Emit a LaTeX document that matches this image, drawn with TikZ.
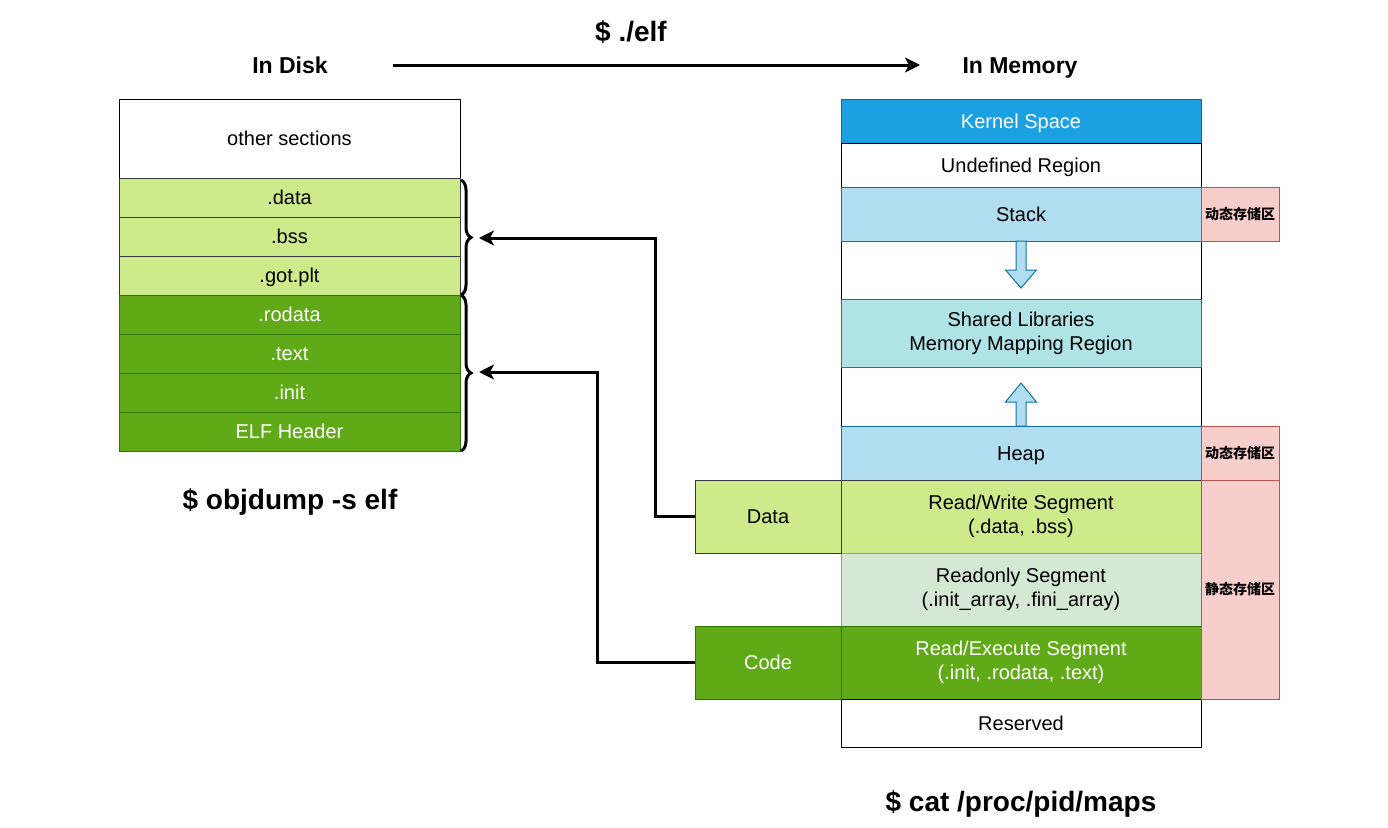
\documentclass[tikz,border=0pt]{standalone}
\usepackage{fontspec}
\setmainfont{Liberation Sans}
\newfontfamily\cjk{Noto Sans CJK SC}
\usetikzlibrary{arrows.meta, decorations.pathreplacing}
\definecolor{kernfill}{HTML}{1BA1E2}
\definecolor{kernline}{HTML}{006EAF}
\definecolor{dynfill}{HTML}{B1DDF0}
\definecolor{dynline}{HTML}{10739E}
\definecolor{libfill}{HTML}{B0E3E6}
\definecolor{libline}{HTML}{0E8088}
\definecolor{rwfill}{HTML}{CDEB8B}
\definecolor{rwline}{HTML}{36393D}
\definecolor{rofill}{HTML}{D5E8D4}
\definecolor{roline}{HTML}{82B366}
\definecolor{rxfill}{HTML}{60A917}
\definecolor{rxline}{HTML}{2D7600}
\definecolor{tagfill}{HTML}{F8CECC}
\definecolor{tagline}{HTML}{B85450}
\tikzset{
    > = {Stealth[length=15pt, width=15pt, inset=4pt]},
    link/.style = {->, line width=3pt},
    brace/.style = {decorate, decoration={brace, amplitude=10pt}, line width=3pt},
    box/.style = {draw, line width=1pt, inner sep=0pt, align=center,
        font=\fontsize{20}{24}\selectfont},
    oneline/.style = {text height=14.6pt, text depth=0pt},
    disk/.style = {box, oneline, minimum width=341pt, minimum height=39pt},
    mem/.style = {box, minimum width=360pt},
    side/.style = {box, oneline, minimum width=146pt, minimum height=73pt},
    tag/.style = {box, fill=tagfill, draw=tagline, minimum width=78pt,
        font=\fontsize{14}{16}\selectfont\cjk\bfseries},
    kernelbox/.style = {fill=kernfill, draw=kernline, text=white},
    dynbox/.style = {fill=dynfill, draw=dynline},
    libbox/.style = {fill=libfill, draw=libline},
    rwbox/.style = {fill=rwfill, draw=rwline},
    robox/.style = {fill=rofill, draw=roline},
    rxbox/.style = {fill=rxfill, draw=rxline, text=white},
    title/.style = {font=\fontsize{23}{28}\selectfont\bfseries,
        text height=16.6pt, text depth=0pt},
    cmd/.style = {font=\fontsize{28}{32}\selectfont\bfseries,
        text height=20.2pt, text depth=0pt},
    growarrow/.style = {fill=dynfill, draw=dynline, line width=1pt}
}
\begin{document}
\begin{tikzpicture}[x=1pt, y=-1pt]
    \useasboundingbox (0,0) rectangle (1388,827);

    % titles
    \node[title] (disk) at (290, 65) {In Disk};
    \node[title] (memory) at (1020, 65) {In Memory};
    \node[cmd] (run) at (631, 31) {\$ ./elf};
    \node[cmd] (objdump) at (290, 499) {\$ objdump -s elf};
    \node[cmd] (maps) at (1021, 801) {\$ cat /proc/pid/maps};
    \coordinate (runstart) at (393, 65);
    \coordinate (runend) at (920, 65);
    \draw[link] (runstart) -- (runend);

    % sections on disk
    \node[disk, minimum height=79pt] (other) at (289.5, 138.5) {other sections};
    \node[disk, rwbox] (data) at (289.5, 197.5) {.data};
    \node[disk, rwbox] (bss) at (289.5, 236.5) {.bss};
    \node[disk, rwbox] (got) at (289.5, 275.5) {.got.plt};
    \node[disk, rxbox] (rodata) at (289.5, 314.5) {.rodata};
    \node[disk, rxbox] (text) at (289.5, 353.5) {.text};
    \node[disk, rxbox] (init) at (289.5, 392.5) {.init};
    \node[disk, rxbox] (elfhdr) at (289.5, 431.5) {ELF Header};

    \draw[brace] (461, 180) -- (461, 295);
    \draw[brace] (461, 295) -- (461, 451);
    \coordinate (datatip) at (479, 238);
    \coordinate (codetip) at (479, 372);

    % process memory
    \draw[line width=1pt] (841, 241) rectangle (1201, 426);
    \node[mem, oneline, kernelbox, minimum height=44pt] (kernel) at (1021, 121) {Kernel Space};
    \node[mem, oneline, minimum height=44pt] (undef) at (1021, 165) {Undefined Region};
    \node[mem, oneline, dynbox, minimum height=54pt] (stack) at (1021, 214) {Stack};
    \node[mem, libbox, minimum height=68pt] (shlib) at (1021, 333) {Shared Libraries\\Memory Mapping Region};
    \node[mem, oneline, dynbox, minimum height=54pt] (heap) at (1021, 453) {Heap};
    \node[mem, rwbox, minimum height=73pt] (rwseg) at (1021, 516.5) {Read/Write Segment\\(.data, .bss)};
    \node[mem, robox, minimum height=73pt] (roseg) at (1021, 589.5) {Readonly Segment\\(.init\_array, .fini\_array)};
    \node[mem, rxbox, minimum height=73pt] (rxseg) at (1021, 662.5) {Read/Execute Segment\\(.init, .rodata, .text)};
    \node[mem, oneline, minimum height=48pt] (reserved) at (1021, 723) {Reserved};

    \node[side, rwbox] (Data) at (768, 516.5) {Data};
    \node[side, rxbox] (Code) at (768, 662.5) {Code};

    \node[tag, minimum height=54pt] (dyntop) at (1240, 214) {动态存储区};
    \node[tag, minimum height=54pt] (dynheap) at (1240, 453) {动态存储区};
    \node[tag, minimum height=219pt] (static) at (1240, 589.5) {静态存储区};

    % stack grows down, heap grows up
    \draw[growarrow] (1016, 241) -- (1016, 270) -- (1005.5, 270) -- (1021, 288)
        -- (1036.5, 270) -- (1026, 270) -- (1026, 241) -- cycle;
    \draw[growarrow] (1016, 426) -- (1016, 402) -- (1005.5, 402) -- (1021, 383)
        -- (1036.5, 402) -- (1026, 402) -- (1026, 426) -- cycle;

    % segments back to sections
    \draw[link] (Data.west) -- (655, 516.5) |- (datatip);
    \draw[link] (Code.west) -- (597, 662.5) |- (codetip);
\end{tikzpicture}
\end{document}
